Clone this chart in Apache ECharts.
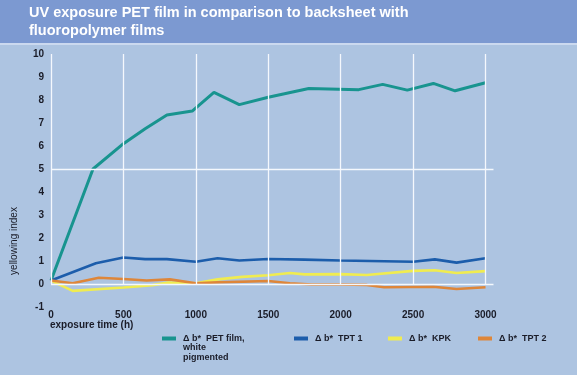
<!DOCTYPE html>
<html>
<head>
<meta charset="utf-8">
<script src="https://cdn.jsdelivr.net/npm/echarts@6/dist/echarts.min.js"></script>
<style>html,body{margin:0;padding:0;background:#adc4e1;}#c{width:577px;height:375px;}</style>
</head>
<body>
<div id="c"></div>
<script>
const seriesNames = ['Δ b*  PET film, white pigmented', 'Δ b*  TPT 1', 'Δ b*  KPK', 'Δ b*  TPT 2'];
const xTicks = [0, 500, 1000, 1500, 2000, 2500, 3000];
const yTicks = [-1, 0, 1, 2, 3, 4, 5, 6, 7, 8, 9, 10];

const petX = [0, 290, 500, 650, 800, 975, 1125, 1300, 1500, 1780, 2125, 2290, 2460, 2640, 2790, 3000];
const petY = [0.15, 5.0, 6.1, 6.75, 7.35, 7.52, 8.33, 7.8, 8.12, 8.5, 8.45, 8.68, 8.43, 8.72, 8.4, 8.75];

const tpt1X = [0, 310, 500, 650, 800, 1000, 1150, 1300, 1500, 1750, 2000, 2500, 2650, 2800, 3000];
const tpt1Y = [0.15, 0.9, 1.15, 1.08, 1.08, 0.97, 1.12, 1.02, 1.09, 1.06, 1.02, 0.97, 1.07, 0.93, 1.12];

const kpkX = [0, 150, 500, 700, 810, 1000, 1150, 1320, 1500, 1650, 1750, 2000, 2180, 2500, 2650, 2800, 3000];
const kpkY = [0.15, -0.3, -0.15, -0.05, 0.06, 0.03, 0.2, 0.31, 0.38, 0.48, 0.42, 0.43, 0.39, 0.57, 0.6, 0.48, 0.56];

const tpt2X = [0, 150, 330, 500, 660, 820, 1000, 1150, 1500, 1650, 1800, 2000, 2180, 2300, 2640, 2800, 3000];
const tpt2Y = [0.15, 0.03, 0.27, 0.22, 0.15, 0.2, 0.03, 0.07, 0.13, 0.03, -0.02, -0.02, -0.04, -0.14, -0.12, -0.22, -0.14];

const colors = ['#18948f', '#1c5dab', '#f0ec50', '#de8639'];
const gridColor = '#f4f8fd';

function pairs(xs, ys) { return xs.map((x, i) => [x, ys[i]]); }

const chart = echarts.init(document.getElementById('c'), null, {renderer: 'canvas'});
const font = 'Liberation Sans, Arial, sans-serif';
const dark = '#1a1c28';

const gridLines = [];
xTicks.forEach(x => gridLines.push([{coord: [x, 0]}, {coord: [x, 10]}]));
gridLines.push([{coord: [0, 0]}, {coord: [3055, 0]}]);
gridLines.push([{coord: [0, 5]}, {coord: [3055, 5]}]);

const dataSets = [pairs(petX, petY), pairs(tpt1X, tpt1Y), pairs(kpkX, kpkY), pairs(tpt2X, tpt2Y)];

const legendPos = [162, 294, 388, 478];
const legends = seriesNames.map((n, i) => ({
  data: [n],
  left: legendPos[i],
  top: 334,
  padding: 0,
  orient: 'horizontal',
  icon: 'rect',
  itemWidth: 14,
  itemHeight: 4,
  itemGap: 0,
  selectedMode: false,
  formatter: (name) => name.indexOf('PET') >= 0 ? 'Δ b*  PET film,' : name,
  textStyle: {fontSize: 9, fontWeight: 'bold', color: dark, fontFamily: font, padding: [0, 0, 0, 2]}
}));

chart.setOption({
  backgroundColor: '#adc4e1',
  animation: false,
  title: {
    text: 'UV exposure PET film in comparison to backsheet with\nfluoropolymer films',
    left: 29, top: 4, padding: 0,
    textStyle: {color: '#ffffff', fontSize: 14.5, fontWeight: 'bold', lineHeight: 18, fontFamily: font}
  },
  legend: legends,
  grid: {left: 51, right: 77, top: 54, bottom: 68},
  xAxis: {
    type: 'value', min: 0, max: 3100, interval: 500,
    axisLine: {show: false}, axisTick: {show: false}, splitLine: {show: false},
    axisLabel: {
      margin: 3, fontSize: 10, fontWeight: 'bold', color: dark, fontFamily: font,
      formatter: v => xTicks.indexOf(v) >= 0 ? String(v) : ''
    }
  },
  yAxis: {
    type: 'value', min: yTicks[0], max: yTicks[yTicks.length - 1], interval: 1,
    axisLine: {show: false}, axisTick: {show: false}, splitLine: {show: false},
    axisLabel: {margin: 7, fontSize: 10, fontWeight: 'bold', color: dark, fontFamily: font}
  },
  graphic: [
    {type: 'rect', z: -10, shape: {x: 0, y: 0, width: 577, height: 43}, style: {fill: '#7c99d1'}},
    {type: 'rect', z: -10, shape: {x: 0, y: 43, width: 577, height: 2}, style: {fill: '#cbd9ef'}},
    {type: 'text', left: 50, top: 320, style: {text: 'exposure time (h)', fill: dark, font: 'bold 10px Liberation Sans, Arial, sans-serif'}},
    {type: 'text', x: 14, y: 241, rotation: Math.PI / 2, style: {text: 'yellowing index', fill: dark, font: '10px Liberation Sans, Arial, sans-serif', align: 'center', verticalAlign: 'middle'}},
    {type: 'text', left: 183, top: 343, style: {text: 'white\npigmented', fill: dark, font: 'bold 9px Liberation Sans, Arial, sans-serif', lineHeight: 10}}
  ],
  series: [
    {
      type: 'line', name: '_grid', data: [], silent: true, z: 1,
      markLine: {
        silent: true, symbol: 'none', label: {show: false}, animation: false,
        lineStyle: {color: gridColor, width: 1.3, type: 'solid'},
        emphasis: {disabled: true},
        data: gridLines
      }
    }
  ].concat(dataSets.map((d, i) => ({
    type: 'line', name: seriesNames[i], data: d, showSymbol: false, symbol: 'none', z: 3,
    lineStyle: {color: colors[i], width: i === 0 ? 3 : 2.6},
    itemStyle: {color: colors[i]},
    clip: false
  })))
});
</script>
</body>
</html>
